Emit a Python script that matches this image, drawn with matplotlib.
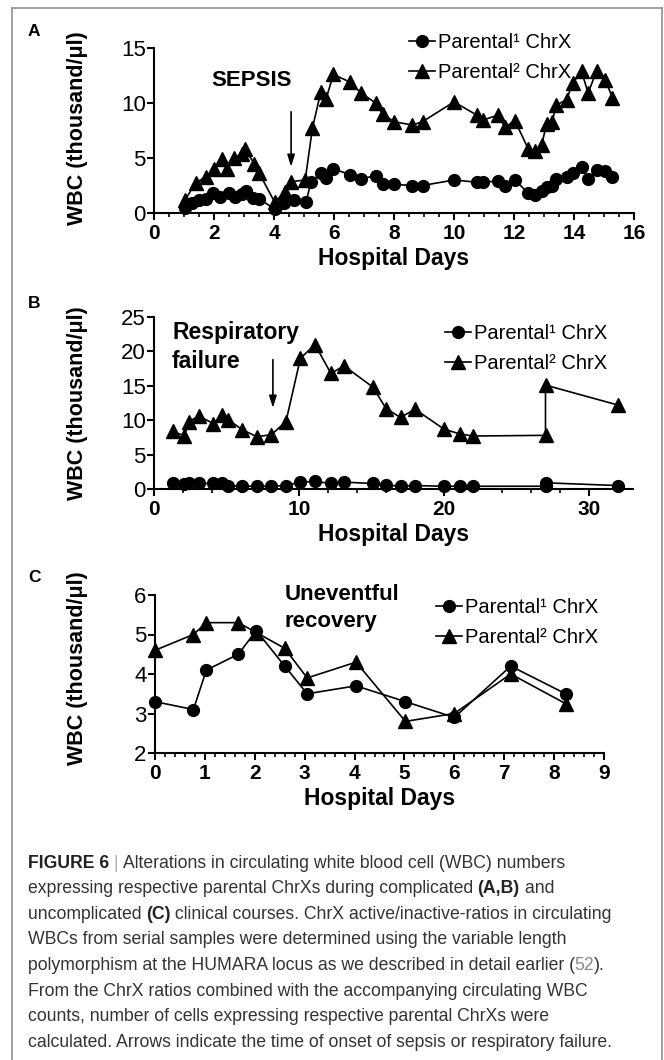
import matplotlib
matplotlib.use('Agg')
import matplotlib.pyplot as plt
from matplotlib.ticker import MultipleLocator
from matplotlib.lines import Line2D

plt.rcParams['font.family'] = ['Liberation Sans', 'DejaVu Sans']

W, H = 664.0, 1060.0

LEGENDS = ['Parental\u00b9 ChrX', 'Parental\u00b2 ChrX']

#
# panel A - sepsis
#
a_days1 = [1.04, 1.28, 1.5, 1.73, 1.95, 2.2, 2.5, 2.7, 2.92, 3.05, 3.3, 3.5,
           4.02, 4.33, 4.65, 5.07, 5.23, 5.55, 5.74, 5.98, 6.53, 6.9, 7.39,
           7.62, 8.0, 8.61, 8.95, 10.0, 10.76, 10.97, 11.46, 11.7, 12.03,
           12.48, 12.69, 12.92, 13.09, 13.27, 13.41, 13.75, 13.96, 14.25,
           14.47, 14.75, 15.04, 15.28]
a_p1 = [0.45, 0.95, 1.2, 1.3, 1.8, 1.5, 1.8, 1.5, 1.7, 2.0, 1.4, 1.3,
        0.35, 0.9, 1.2, 1.0, 2.8, 3.6, 3.2, 4.0, 3.5, 3.1, 3.4,
        2.6, 2.6, 2.5, 2.5, 3.0, 2.8, 2.8, 2.9, 2.5, 3.0,
        1.8, 1.65, 2.0, 2.4, 2.5, 3.1, 3.3, 3.6, 4.2,
        3.1, 3.9, 3.8, 3.3]
a_days2 = [1.04, 1.39, 1.74, 2.0, 2.28, 2.44, 2.68, 2.92, 3.03, 3.34, 3.51,
           4.02, 4.36, 4.58, 5.04, 5.28, 5.56, 5.74, 5.98, 6.53, 6.9, 7.39,
           7.62, 8.0, 8.61, 8.95, 10.0, 10.76, 10.97, 11.46, 11.7, 12.03,
           12.48, 12.69, 12.92, 13.09, 13.27, 13.41, 13.75, 13.96, 14.25,
           14.47, 14.75, 15.04, 15.28]
a_p2 = [1.2, 2.75, 3.3, 4.0, 4.9, 4.0, 5.0, 5.4, 5.8, 4.5, 3.6,
        1.0, 1.9, 2.85, 3.0, 7.7, 11.0, 10.4, 12.6, 11.9, 10.9, 10.0,
        9.0, 8.3, 8.0, 8.3, 10.1, 8.9, 8.45, 8.9, 7.8, 8.4,
        5.8, 5.6, 6.2, 8.1, 8.3, 9.8, 10.3, 11.8, 12.9,
        10.9, 12.9, 12.1, 10.5]

#
# panel B - respiratory failure
#
b_days = [1.3, 2.1, 2.4, 3.1, 4.1, 4.7, 5.1, 6.1, 7.1, 8.1, 9.1, 10.1, 11.1,
          12.2, 13.1, 15.1, 16.0, 17.0, 18.0, 20.0, 21.1, 22.0, 27.0, 27.0,
          32.0]
b_p1 = [0.8, 0.7, 0.8, 0.8, 0.8, 0.8, 0.5, 0.4, 0.4, 0.4, 0.5, 1.0, 1.1,
        0.8, 1.0, 0.8, 0.6, 0.4, 0.5, 0.4, 0.4, 0.4, 0.4, 0.9, 0.5]
b_p2 = [8.4, 7.7, 9.8, 10.6, 9.5, 10.8, 10.1, 8.6, 7.6, 7.9, 9.8, 19.0, 21.0,
        16.8, 17.9, 14.8, 11.7, 10.4, 11.6, 8.7, 8.0, 7.7, 7.8, 15.1, 12.2]

#
# panel C - uneventful recovery
#
c_days = [0, 0.77, 1.03, 1.67, 2.03, 2.6, 3.05, 4.03, 5.02, 6.0, 7.13, 8.23]
c_p1 = [3.3, 3.1, 4.1, 4.5, 5.1, 4.2, 3.5, 3.7, 3.3, 2.9, 4.2, 3.5]
c_p2 = [4.6, 5.0, 5.3, 5.3, 5.05, 4.65, 3.9, 4.3, 2.8, 3.0, 4.0, 3.25]


def px_axes(left, top, right, bottom):
    # axes rectangle given in pixels from the top-left corner
    return fig.add_axes([left / W, 1 - bottom / H, (right - left) / W, (bottom - top) / H])


def style(ax, xmax, xmaj, xmin, ymin, ymax, ymaj):
    ax.set_xlim(0, xmax)
    ax.set_ylim(ymin, ymax)
    for s in ['top', 'right']:
        ax.spines[s].set_visible(False)
    for s in ['left', 'bottom']:
        ax.spines[s].set_linewidth(1.5)
    ax.xaxis.set_major_locator(MultipleLocator(xmaj))
    ax.xaxis.set_minor_locator(MultipleLocator(xmin))
    ax.yaxis.set_major_locator(MultipleLocator(ymaj))
    ax.tick_params(which='major', direction='out', length=5, width=1.5)
    ax.tick_params(which='minor', direction='out', length=3, width=1.2)
    ax.tick_params(axis='x', labelsize=15, pad=3)
    ax.tick_params(axis='y', labelsize=16, pad=1)
    for t in ax.get_xticklabels():
        t.set_fontweight('bold')
    ax.patch.set_alpha(0)


def draw(ax, d1, v1, d2, v2, leg_x, leg_y):
    ax.plot(d1, v1, '-o', color='k', lw=1.2, ms=8.5, clip_on=False, label=LEGENDS[0])
    ax.plot(d2, v2, '-^', color='k', lw=1.2, ms=9.5, clip_on=False, label=LEGENDS[1])
    ax.legend(loc='upper left', bbox_to_anchor=(leg_x / W, 1 - leg_y / H),
              bbox_transform=fig.transFigure, frameon=False, fontsize=14.5,
              handlelength=1.3, handletextpad=0.12, labelspacing=0.55,
              borderpad=0, borderaxespad=0, numpoints=1)


fig = plt.figure(figsize=(W / 100, H / 100), dpi=100)


# text placed in figure pixels (y from top)
def ftext(x, y, s, **kw):
    return fig.text(x / W, 1 - y / H, s, **kw)


# A
axA = px_axes(154, 48, 634, 213)
style(axA, 16, 2, 0.5, 0, 15, 5)
draw(axA, a_days1, a_p1, a_days2, a_p2, 409, 33)
axA.set_xlabel('Hospital Days', fontsize=16.5, fontweight='bold', labelpad=3)
ftext(252, 80, 'SEPSIS', fontsize=16, fontweight='bold', ha='center', va='center')
axA.annotate('', xy=(4.57, 4.2), xytext=(4.57, 9.2),
             arrowprops=dict(arrowstyle='-|>,head_length=0.7,head_width=0.22',
                             color='k', lw=1.2, shrinkA=0, shrinkB=0))

# B
axB = px_axes(154, 317, 632.5, 489)
style(axB, 33, 10, 2, 0, 25, 5)
draw(axB, b_days, b_p1, b_days, b_p2, 445, 324)
axB.set_xlabel('Hospital Days', fontsize=16.5, fontweight='bold', labelpad=3)
axB.annotate('', xy=(8.2, 11.8), xytext=(8.2, 18.8),
             arrowprops=dict(arrowstyle='-|>,head_length=0.7,head_width=0.22',
                             color='k', lw=1.2, shrinkA=0, shrinkB=0))

# C
axC = px_axes(155, 595, 604, 753)
style(axC, 9, 1, 0.2, 2, 6, 1)
draw(axC, c_days, c_p1, c_days, c_p2, 436, 598)
axC.set_xlabel('Hospital Days', fontsize=16.5, fontweight='bold', labelpad=3)

for letter, y in [('A', 32), ('B', 304), ('C', 578)]:
    ftext(28, y, letter, fontsize=12.5, fontweight='bold', va='center')

for y in [128, 403, 668]:
    ftext(77, y, 'WBC (thousand/\u03bcl)', fontsize=15.5, fontweight='bold',
          rotation=90, ha='center', va='center')

ftext(172, 333, 'Respiratory', fontsize=16.5, fontweight='bold', va='center')
ftext(172, 362, 'failure', fontsize=16.5, fontweight='bold', va='center')
ftext(285, 595, 'Uneventful', fontsize=16, fontweight='bold', va='center')
ftext(285, 622, 'recovery', fontsize=16, fontweight='bold', va='center')

#
# caption, written run by run so bold and grey parts sit inline
#
TXT = '#333333'
caption = [
    [('FIGURE 6', 'bold', '#222222'), (' | ', 'normal', '#aaaaaa'),
     ('Alterations in circulating white blood cell (WBC) numbers', 'normal', TXT)],
    [('expressing respective parental ChrXs during complicated ', 'normal', TXT),
     ('(A,B)', 'bold', '#222222'), (' and', 'normal', TXT)],
    [('uncomplicated ', 'normal', TXT), ('(C)', 'bold', '#222222'),
     (' clinical courses. ChrX active/inactive-ratios in circulating', 'normal', TXT)],
    [('WBCs from serial samples were determined using the variable length', 'normal', TXT)],
    [('polymorphism at the HUMARA locus as we described in detail earlier (', 'normal', TXT),
     ('52', 'normal', '#8a8a8a'), (').', 'normal', TXT)],
    [('From the ChrX ratios combined with the accompanying circulating WBC', 'normal', TXT)],
    [('counts, number of cells expressing respective parental ChrXs were', 'normal', TXT)],
    [('calculated. Arrows indicate the time of onset of sepsis or respiratory failure.', 'normal', TXT)],
]

renderer = fig.canvas.get_renderer()
y0 = 863
for i, runs in enumerate(caption):
    x = 27.5
    y = y0 + i * 25.6
    for s, wt, col in runs:
        t = ftext(x, y, s, fontsize=12.7, fontweight=wt, color=col, va='center', ha='left')
        x += t.get_window_extent(renderer).width

# grey frame around the figure (open at the bottom)
frame = dict(color='#9a9a9a', lw=1.3, transform=fig.transFigure)
fig.add_artist(Line2D([11.5 / W, 11.5 / W], [0, 1 - 7.5 / H], **frame))
fig.add_artist(Line2D([11.5 / W, 662 / W], [1 - 7.5 / H, 1 - 7.5 / H], **frame))
fig.add_artist(Line2D([662 / W, 662 / W], [0, 1 - 7.5 / H], **frame))

fig.savefig('out.png', dpi=100)
plt.close(fig)
